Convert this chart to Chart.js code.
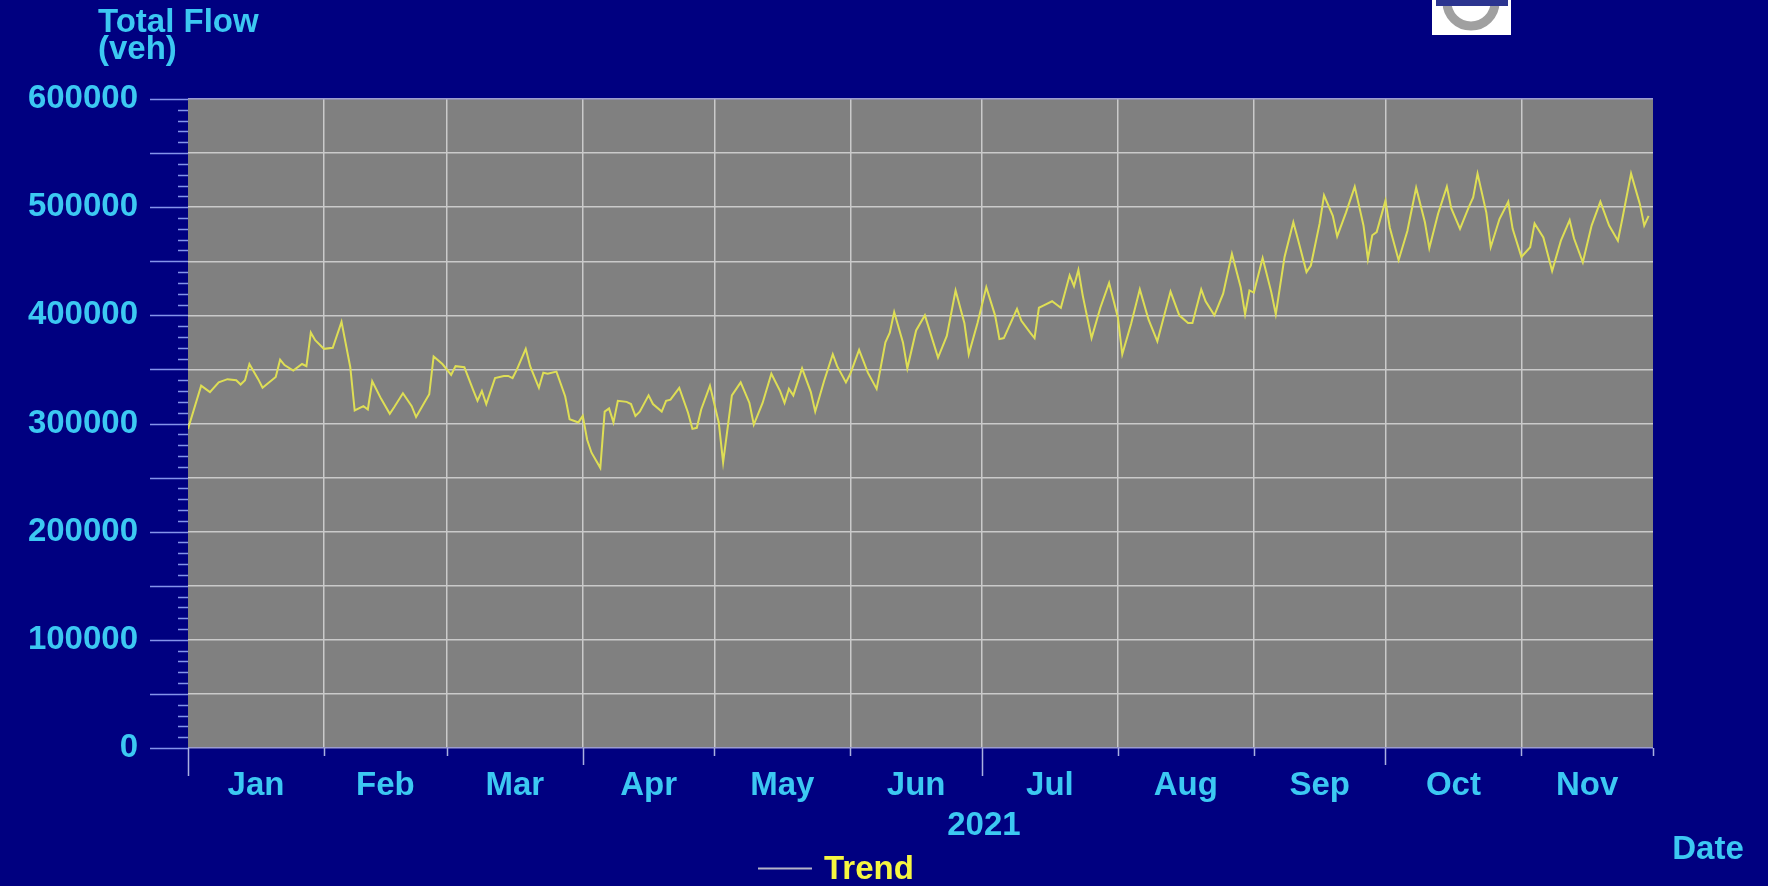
<!DOCTYPE html>
<html>
<head>
<meta charset="utf-8">
<script src="https://cdn.jsdelivr.net/npm/chart.js@4.4.1/dist/chart.umd.min.js"></script>
<style>
  html, body { margin: 0; padding: 0; background: #000080; overflow: hidden; }
  canvas { display: block; }
</style>
</head>
<body>
<canvas id="c" width="1768" height="886"></canvas>
<script>
// ---- data ----
const monthNames = ['Jan','Feb','Mar','Apr','May','Jun','Jul','Aug','Sep','Oct','Nov'];
const monthStartDays = [0,31,59,90,120,151,181,212,243,273,304,334];
const yearLabel = '2021';
const yTickLabels = [0,100000,200000,300000,400000,500000,600000];
const seriesName = 'Trend';
const flowDays = [
  0,3,5,7,9,11,12,13,14,16,17,20,21,22,24,26,27,28,29,31,33,35,37,38,40,41,42,44,46,47,49,51,52,54,55,56,
  58,60,61,63,65,66,67,68,70,72,73,74,75,77,78,80,81,82,84,86,87,89,90,91,92,94,95,96,97,98,100,101,102,103,105,106,108,109,110,112,
  114,115,116,117,119,121,122,124,126,128,129,131,133,135,136,137,138,140,142,143,145,147,148,150,151,153,155,157,159,160,161,163,164,166,168,
  171,173,175,177,178,180,182,184,185,186,189,190,192,193,194,195,197,198,199,201,202,203,204,206,208,210,212,213,215,217,219,221,224,
  226,228,229,231,232,234,236,238,240,241,242,243,245,247,248,250,252,253,255,256,258,259,261,262,264,266,268,269,270,271,273,274,276,278,280,
  282,283,285,287,288,290,292,293,294,296,297,299,301,302,304,306,307,309,311,313,315,316,318,320,322,324,326,327,329,331,332,333
];
const flowValues = [
  295000,335000,329000,338000,341000,340000,336000,340000,355000,341000,333000,343000,359000,354000,349000,355000,353000,384000,377000,369000,370000,394000,352000,312000,316000,313000,339000,323000,309000,315000,328000,316000,306000,320000,327000,362000,
  355000,345000,353000,352000,331000,321000,330000,318000,342000,344000,344000,342000,350000,369000,353000,333000,347000,346000,348000,325000,304000,301000,307000,285000,273000,259000,311000,314000,301000,321000,320000,318000,307000,311000,326000,318000,311000,321000,322000,333000,
  310000,295000,296000,313000,335000,301000,264000,326000,338000,319000,299000,319000,346000,330000,319000,332000,326000,351000,329000,311000,339000,364000,353000,338000,346000,368000,347000,332000,375000,384000,403000,375000,351000,386000,400000,
  361000,381000,423000,393000,364000,393000,426000,400000,378000,379000,406000,395000,384000,379000,407000,409000,413000,410000,407000,437000,427000,442000,418000,379000,407000,430000,398000,364000,392000,424000,396000,376000,422000,
  400000,393000,393000,424000,413000,400000,420000,457000,426000,401000,423000,421000,453000,421000,401000,454000,486000,471000,440000,446000,485000,511000,492000,473000,495000,519000,483000,452000,474000,477000,506000,481000,451000,478000,518000,
  486000,462000,494000,519000,499000,480000,500000,509000,531000,495000,463000,489000,505000,480000,454000,463000,485000,472000,441000,469000,488000,471000,449000,483000,505000,483000,469000,489000,531000,503000,483000,492000
];

// ---- styles ----
const NAVY = '#000080';
const PLOT_GRAY = '#808080';
const GRID = '#cacaca';
const EDGE = '#9c9cd0';
const TEXT = '#3cc8f2';
const LINE = '#dede55';
const FONT = '"Liberation Sans", Arial, sans-serif';
const FSIZE = 33;

const monthMids = monthNames.map((m, i) => (monthStartDays[i] + monthStartDays[i + 1]) / 2);
const xTickValues = monthStartDays.concat(monthMids).sort((a, b) => a - b);
const yTickValues = [];
for (let v = 0; v <= 600000; v += 10000) yTickValues.push(v);

const decor = {
  id: 'decor',
  beforeDraw(chart) {
    const { ctx, chartArea: a } = chart;
    ctx.save();
    ctx.fillStyle = NAVY;
    ctx.fillRect(0, 0, chart.width, chart.height);
    ctx.fillStyle = PLOT_GRAY;
    ctx.fillRect(a.left, a.top, a.right - a.left, a.bottom - a.top);
    ctx.restore();
  },
  afterDraw(chart) {
    const { ctx, chartArea: a } = chart;
    const xs = chart.scales.x, ys = chart.scales.y;
    ctx.save();
    // y tick marks
    ctx.strokeStyle = '#8494ea';
    ctx.lineWidth = 1.5;
    yTickValues.forEach(v => {
      const y = Math.round(ys.getPixelForValue(v)) + 0.5;
      const len = (v % 50000 === 0) ? 38 : 10;
      ctx.beginPath();
      ctx.moveTo(a.left - len, y);
      ctx.lineTo(a.left, y);
      ctx.stroke();
    });
    // x tick marks
    ctx.strokeStyle = '#aab0e0';
    monthStartDays.forEach((d) => {
      const x = Math.round(xs.getPixelForValue(d)) + 0.5;
      let len = 8;
      if (d === 0 || d === 181) len = 28;
      else if (d === 90 || d === 273) len = 17;
      ctx.beginPath();
      ctx.moveTo(x, a.bottom);
      ctx.lineTo(x, a.bottom + len);
      ctx.stroke();
    });
    // texts
    ctx.fillStyle = TEXT;
    ctx.font = 'bold ' + FSIZE + 'px ' + FONT;
    ctx.textAlign = 'left';
    ctx.textBaseline = 'alphabetic';
    ctx.fillText('Total Flow', 98, 32);
    ctx.fillText('(veh)', 98, 59);
    ctx.textAlign = 'center';
    ctx.textBaseline = 'middle';
    ctx.fillText(yearLabel, xs.getPixelForValue(181) + 2, 826);
    ctx.fillText('Date', 1708, 850);
    // legend
    ctx.strokeStyle = '#b4b4c8';
    ctx.lineWidth = 2;
    ctx.beginPath();
    ctx.moveTo(758, 868.5);
    ctx.lineTo(812, 868.5);
    ctx.stroke();
    ctx.fillStyle = '#f6f640';
    ctx.textAlign = 'left';
    ctx.fillText(seriesName, 824, 870);
    // logo
    ctx.fillStyle = '#ffffff';
    ctx.fillRect(1432, 0, 79, 35);
    ctx.strokeStyle = '#a0a0a0';
    ctx.lineWidth = 9;
    ctx.beginPath();
    ctx.arc(1471, 2, 24, 0, Math.PI * 2);
    ctx.stroke();
    ctx.fillStyle = '#2c3590';
    ctx.fillRect(1436, 0, 72, 6);
    ctx.restore();
  }
};

new Chart(document.getElementById('c'), {
  type: 'line',
  data: {
    datasets: [{
      label: seriesName,
      data: flowDays.map((d, i) => ({ x: d, y: flowValues[i] })),
      borderColor: LINE,
      borderWidth: 2,
      pointRadius: 0,
      tension: 0,
      fill: false
    }]
  },
  options: {
    responsive: false,
    animation: false,
    devicePixelRatio: 1,
    layout: { padding: { top: 99, right: 115, bottom: 0, left: 0 } },
    plugins: { legend: { display: false }, tooltip: { enabled: false }, title: { display: false } },
    scales: {
      x: {
        type: 'linear',
        min: 0,
        max: 334,
        afterBuildTicks: s => { s.ticks = xTickValues.map(v => ({ value: v })); },
        afterFit: s => { s.height = 138; },
        border: { display: false },
        grid: {
          drawTicks: false,
          lineWidth: 1.5,
          color: ctx => {
            const v = ctx.tick ? ctx.tick.value : null;
            if (v === 0 || v === 334) return 'transparent';
            return monthStartDays.includes(v) ? GRID : 'transparent';
          }
        },
        ticks: {
          autoSkip: false,
          maxRotation: 0,
          padding: 18,
          color: TEXT,
          font: { family: FONT, size: FSIZE, weight: 'bold' },
          callback: v => {
            const i = monthMids.indexOf(v);
            return i >= 0 ? monthNames[i] : '';
          }
        }
      },
      y: {
        min: 0,
        max: 600000,
        afterBuildTicks: s => { s.ticks = yTickValues.map(v => ({ value: v })); },
        afterFit: s => { s.width = 188; },
        border: { display: false },
        grid: {
          drawTicks: false,
          lineWidth: 1.5,
          color: ctx => {
            const v = ctx.tick ? ctx.tick.value : null;
            if (v === 0 || v === 600000) return EDGE;
            return (v % 50000 === 0) ? GRID : 'transparent';
          }
        },
        ticks: {
          autoSkip: false,
          padding: 50,
          color: TEXT,
          font: { family: FONT, size: FSIZE, weight: 'bold' },
          callback: v => yTickLabels.includes(v) ? String(v) : ''
        }
      }
    }
  },
  plugins: [decor]
});
</script>
</body>
</html>
